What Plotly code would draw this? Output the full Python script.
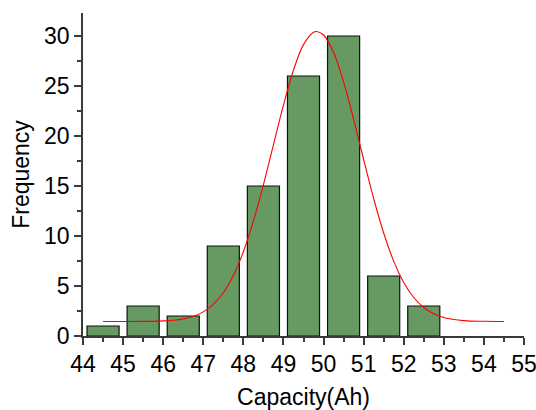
import plotly.graph_objects as go

# Histogram data
bin_centers = [44.5, 45.5, 46.5, 47.5, 48.5, 49.5, 50.5, 51.5, 52.5]
frequency = [1, 3, 2, 9, 15, 26, 30, 6, 3]

# Fitted curve points
fit_x = [44.5, 45.0, 45.5, 46.0, 46.25, 46.5, 46.75, 47.0, 47.25, 47.5, 47.75,
         48.0, 48.25, 48.5, 48.75, 49.0, 49.25, 49.5, 49.75, 49.83, 50.0,
         50.25, 50.5, 50.75, 51.0, 51.25, 51.5, 51.75, 52.0, 52.25, 52.5,
         52.75, 53.0, 53.5, 54.0, 54.5]
fit_y = [1.45, 1.45, 1.46, 1.51, 1.58, 1.71, 1.96, 2.41, 3.16, 4.33, 6.05,
         8.42, 11.48, 15.11, 19.11, 23.08, 26.58, 29.14, 30.37, 30.45, 30.10,
         28.35, 25.41, 21.68, 17.65, 13.75, 10.30, 7.49, 5.36, 3.85, 2.85,
         2.22, 1.85, 1.54, 1.47, 1.45]

x_ticks = [44, 45, 46, 47, 48, 49, 50, 51, 52, 53, 54, 55]
y_ticks = [0, 5, 10, 15, 20, 25, 30]

fig = go.Figure()
fig.add_trace(go.Bar(
    x=bin_centers, y=frequency, width=0.8,
    marker=dict(color="#669a62", line=dict(color="#111111", width=1.2)),
    showlegend=False,
))
fig.add_trace(go.Scatter(
    x=fit_x, y=fit_y, mode="lines",
    line=dict(color="#ff0000", width=1.1, shape="spline"),
    showlegend=False,
))

axis_color = "#3a3a3a"
font_family = "Liberation Sans, Arial, sans-serif"

fig.update_layout(
    width=536, height=410,
    margin=dict(l=83, r=12, t=13, b=74),
    paper_bgcolor="white", plot_bgcolor="white",
    font=dict(family=font_family, color="black"),
    xaxis=dict(
        range=[44, 55], tickvals=x_ticks, ticktext=[str(v) for v in x_ticks],
        showgrid=False, zeroline=False, automargin=False,
        ticklabeloverflow="allow",
        showline=True, linecolor=axis_color, linewidth=1.6,
        ticks="outside", ticklen=7, tickwidth=1.5, tickcolor=axis_color,
        minor=dict(ticks="outside", ticklen=4, tickwidth=1.5, tickcolor=axis_color, dtick=0.5),
        tickfont=dict(size=23),
        title=dict(text="Capacity(Ah)", font=dict(size=23), standoff=12),
    ),
    yaxis=dict(
        range=[0, 32.3], tickvals=y_ticks, ticktext=[str(v) for v in y_ticks],
        showgrid=False, zeroline=False, automargin=False,
        ticklabeloverflow="allow",
        showline=True, linecolor=axis_color, linewidth=1.6,
        ticks="outside", ticklen=7, tickwidth=1.5, tickcolor=axis_color,
        minor=dict(ticks="outside", ticklen=4, tickwidth=1.5, tickcolor=axis_color, dtick=2.5),
        tickfont=dict(size=23),
        title=dict(text="Frequency", font=dict(size=23), standoff=8),
    ),
    bargap=0.2,
)

fig.write_html(
    "out.html",
    config={"displayModeBar": False},
    post_script="document.body.style.margin='0';document.body.style.overflow='hidden';",
)
